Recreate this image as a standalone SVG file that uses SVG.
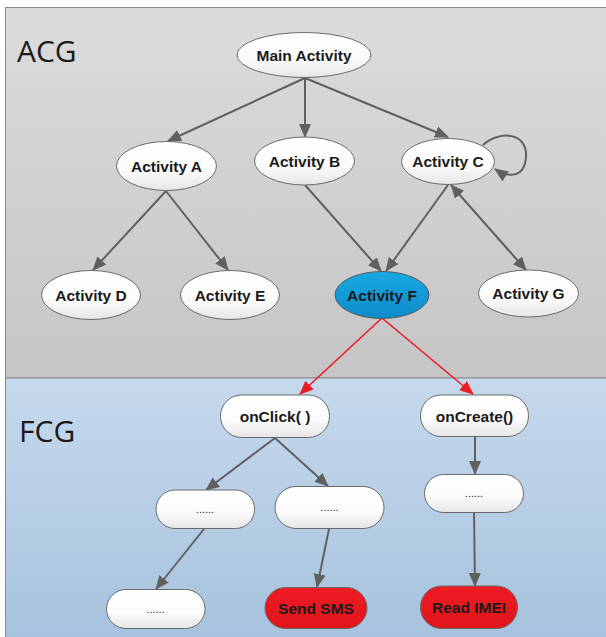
<svg xmlns="http://www.w3.org/2000/svg" width="606" height="637" viewBox="0 0 606 637">
<defs>
<linearGradient id="gAcg" x1="0" y1="0" x2="0" y2="1"><stop offset="0" stop-color="#dcdcdc"/><stop offset="1" stop-color="#c5c5c5"/></linearGradient>
<linearGradient id="gFcg" x1="0" y1="0" x2="0" y2="1"><stop offset="0" stop-color="#c6d9ec"/><stop offset="1" stop-color="#a7c2de"/></linearGradient>
<linearGradient id="gNode" x1="0" y1="0" x2="0" y2="1"><stop offset="0" stop-color="#ffffff"/><stop offset="0.6" stop-color="#fbfbfb"/><stop offset="1" stop-color="#e6e6e6"/></linearGradient>
<linearGradient id="gBlue" x1="0" y1="0" x2="0" y2="1"><stop offset="0" stop-color="#19a8e2"/><stop offset="1" stop-color="#0d8bcb"/></linearGradient>
<linearGradient id="gRed" x1="0" y1="0" x2="0" y2="1"><stop offset="0" stop-color="#ee1c24"/><stop offset="1" stop-color="#e0141b"/></linearGradient>
<marker id="ah" markerUnits="userSpaceOnUse" markerWidth="14" markerHeight="12" viewBox="0 0 14 12" refX="13" refY="6" orient="auto-start-reverse"><path d="M0,0 L14,6 L0,12 Z" fill="#606060"/></marker>
<marker id="ahr" markerUnits="userSpaceOnUse" markerWidth="14" markerHeight="12" viewBox="0 0 14 12" refX="13" refY="6" orient="auto"><path d="M0,0 L14,6 L0,12 Z" fill="#ec1c24"/></marker>
</defs>
<style>
.node{fill:url(#gNode);stroke:#6a6a6a;stroke-width:1}
.blue{fill:url(#gBlue);stroke:#5a5a5a;stroke-width:1}
.red{fill:url(#gRed);stroke:#6a6a6a;stroke-width:1}
.lbl{font-family:"Liberation Sans",Arial,sans-serif;font-weight:bold;font-size:15.5px;fill:#1a1a1a;text-anchor:middle}
.dots{font-family:"Liberation Sans",Arial,sans-serif;font-size:11px;fill:#222;text-anchor:middle}
.title{font-family:"Open Sans","Liberation Sans",sans-serif;font-size:30px;fill:#1a1a1a}
.edge{fill:none;stroke:#606060;stroke-width:2;marker-end:url(#ah)}
.redge{fill:none;stroke:#ec1c24;stroke-width:1.6;marker-end:url(#ahr)}
</style>
<rect id="acg" x="5.5" y="7.5" width="606" height="370.5" fill="url(#gAcg)" stroke="#8a8a8a" stroke-width="1"/>
<rect id="fcg" x="5.5" y="378" width="606" height="262" fill="url(#gFcg)" stroke="#8a8a8a" stroke-width="1"/>
<text class="title" x="17" y="62">ACG</text>
<text class="title" x="19" y="442">FCG</text>

<g id="connectors">
<line class="edge" x1="305" y1="78" x2="168" y2="141"/>
<line class="edge" x1="305" y1="78" x2="305" y2="137"/>
<line class="edge" x1="305" y1="78" x2="448" y2="137"/>
<path class="edge" d="M483,145 C500,130 528,132 526,158 C524,178 508,178 495,169"/>
<line class="edge" x1="166" y1="191" x2="93" y2="270"/>
<line class="edge" x1="166" y1="191" x2="228" y2="270"/>
<line class="edge" x1="305" y1="185" x2="381" y2="271"/>
<line class="edge" x1="448" y1="185" x2="386" y2="271"/>
<line class="edge" x1="526" y1="270" x2="451" y2="185" style="marker-start:url(#ah)"/>
<line class="redge" x1="382" y1="318" x2="300" y2="394"/>
<line class="redge" x1="382" y1="318" x2="473" y2="394"/>
<line class="edge" x1="275" y1="438" x2="206" y2="490"/>
<line class="edge" x1="275" y1="438" x2="328" y2="486"/>
<line class="edge" x1="475" y1="437" x2="475" y2="474"/>
<line class="edge" x1="204" y1="529" x2="156" y2="589"/>
<line class="edge" x1="329" y1="529" x2="317" y2="587"/>
<line class="edge" x1="474" y1="513" x2="475" y2="586"/>
</g>

<g id="main"><ellipse class="node" cx="304" cy="55" rx="67" ry="22.5"/><text class="lbl" x="304" y="60.5">Main Activity</text></g>
<g id="actA"><ellipse class="node" cx="166.5" cy="166" rx="50" ry="24.5"/><text class="lbl" x="166.5" y="171.5">Activity A</text></g>
<g id="actB"><ellipse class="node" cx="304.5" cy="161" rx="50" ry="24"/><text class="lbl" x="304.5" y="166.5">Activity B</text></g>
<g id="actC"><ellipse class="node" cx="448" cy="161.5" rx="46.5" ry="23"/><text class="lbl" x="448" y="167">Activity C</text></g>
<g id="actD"><ellipse class="node" cx="91" cy="295" rx="49.5" ry="24.5"/><text class="lbl" x="91" y="300.5">Activity D</text></g>
<g id="actE"><ellipse class="node" cx="230" cy="295" rx="49.5" ry="24.5"/><text class="lbl" x="230" y="300.5">Activity E</text></g>
<g id="actF"><ellipse class="blue" cx="382" cy="295" rx="47" ry="23.5"/><text class="lbl" x="382" y="300.5">Activity F</text></g>
<g id="actG"><ellipse class="node" cx="528.5" cy="293.5" rx="50" ry="23.5"/><text class="lbl" x="528.5" y="299">Activity G</text></g>

<g id="onClick"><rect class="node" x="220.5" y="395" width="109" height="42.5" rx="21"/><text class="lbl" x="275" y="421.5">onClick( )</text></g>
<g id="onCreate"><rect class="node" x="420.5" y="395" width="108" height="41.5" rx="20.5"/><text class="lbl" x="474.5" y="421.5">onCreate()</text></g>
<g id="dotsL"><rect class="node" x="156" y="490" width="98.5" height="38.5" rx="19"/><text class="dots" x="205" y="513">......</text></g>
<g id="dotsM"><rect class="node" x="275" y="486.5" width="109" height="42" rx="21"/><text class="dots" x="329.5" y="511">......</text></g>
<g id="dotsR"><rect class="node" x="424.5" y="474.5" width="99" height="38" rx="19"/><text class="dots" x="474" y="497">......</text></g>
<g id="dotsB"><rect class="node" x="106.5" y="589.5" width="98.5" height="39" rx="19.5"/><text class="dots" x="155.5" y="613">......</text></g>
<g id="sendSMS"><rect class="red" x="265" y="587.5" width="102" height="41" rx="20.5"/><text class="lbl" x="316" y="613.5">Send SMS</text></g>
<g id="readIMEI"><rect class="red" x="420.5" y="586" width="97" height="42.5" rx="21"/><text class="lbl" x="469" y="612.5">Read IMEI</text></g>
</svg>
